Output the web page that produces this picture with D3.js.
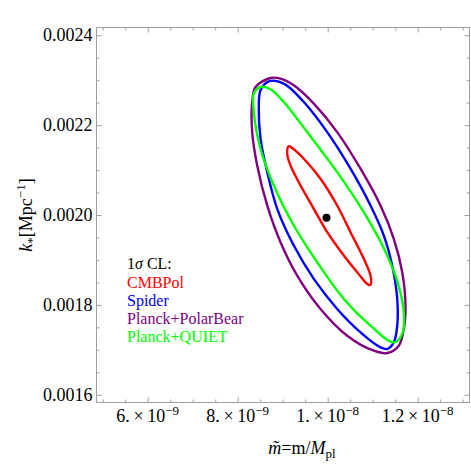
<!DOCTYPE html>
<html>
<head>
<meta charset="utf-8">
<script src="https://cdn.jsdelivr.net/npm/d3@7"></script>
<style>
  body { margin: 0; background: #fff; }
  text { font-family: "Liberation Serif", "Times New Roman", Times, serif; }
</style>
</head>
<body>
<div id="chart"></div>
<script>
// m in units of 1e-9, k in Mpc^-1
const xTickVals = [6, 8, 10, 12];
const xTickMant = ["6.", "8.", "1.", "1.2"];
const xTickExp = ["\u22129", "\u22129", "\u22128", "\u22128"];
const yTickVals = [0.0016, 0.0018, 0.0020, 0.0022, 0.0024];
const yTickLabels = ["0.0016", "0.0018", "0.0020", "0.0022", "0.0024"];

const cmbpol = [
  [9.136, 0.0021533], [9.100, 0.0021364], [9.173, 0.0021103], [9.396, 0.0020657],
  [9.691, 0.0020138], [9.989, 0.0019617], [10.358, 0.0019098], [10.656, 0.0018725],
  [10.878, 0.0018467], [10.951, 0.0018445], [10.951, 0.0018652], [10.802, 0.0019024],
  [10.507, 0.0019617], [10.211, 0.0020212], [9.840, 0.0020807], [9.469, 0.0021252],
  [9.211, 0.0021489]
];
const spider = [
  [8.691, 0.0022975], [8.507, 0.0022774], [8.469, 0.0022367], [8.507, 0.0021698],
  [8.656, 0.0020954], [8.878, 0.0020138], [9.247, 0.0019320], [9.691, 0.0018578],
  [10.211, 0.0017910], [10.729, 0.0017388], [11.173, 0.0017054], [11.322, 0.0017018],
  [11.469, 0.0017165], [11.545, 0.0017538], [11.545, 0.0018133], [11.433, 0.0018875],
  [11.247, 0.0019543], [10.951, 0.0020212], [10.507, 0.0021030], [9.989, 0.0021845],
  [9.469, 0.0022514], [9.024, 0.0022924]
];
const polarBear = [
  [8.729, 0.0023048], [8.396, 0.0022848], [8.322, 0.0022514], [8.322, 0.0021845],
  [8.433, 0.0021103], [8.656, 0.0020212], [8.951, 0.0019394], [9.322, 0.0018652],
  [9.840, 0.0017910], [10.433, 0.0017315], [11.024, 0.0016981], [11.322, 0.0016929],
  [11.580, 0.0017092], [11.691, 0.0017464], [11.729, 0.0017983], [11.656, 0.0018725],
  [11.469, 0.0019470], [11.173, 0.0020212], [10.729, 0.0021030], [10.211, 0.0021845],
  [9.691, 0.0022478], [9.247, 0.0022886], [8.951, 0.0023035]
];
const quiet = [
  [8.507, 0.0022848], [8.358, 0.0022701], [8.358, 0.0022291], [8.507, 0.0021475],
  [8.802, 0.0020657], [9.247, 0.0019766], [9.767, 0.0018948], [10.358, 0.0018133],
  [10.951, 0.0017538], [11.469, 0.0017165], [11.656, 0.0017353], [11.691, 0.0017834],
  [11.560, 0.0018480], [11.260, 0.0019230], [10.802, 0.0020062], [10.211, 0.0020954],
  [9.545, 0.0021845], [9.024, 0.0022514], [8.729, 0.0022797]
];
const fiducial = [9.973, 0.0019938];

const contours = [
  { name: "CMBPol", color: "#ff0000", pts: cmbpol },
  { name: "Spider", color: "#0000ff", pts: spider },
  { name: "Planck+PolarBear", color: "#800080", pts: polarBear },
  { name: "Planck+QUIET", color: "#00ff00", pts: quiet }
];

const width = 471, height = 470;
const pLeft = 96.5, pRight = 469.5, pTop = 27.5, pBottom = 402.5;

const svg = d3.select("#chart").append("svg")
  .attr("width", width).attr("height", height);

const x = d3.scaleLinear().domain([4.862, 13.151]).range([pLeft, pRight]);
const y = d3.scaleLinear().domain([0.0015828, 0.0024172]).range([pBottom, pTop]);

const xMinor = d3.range(5, 13.01, 0.5);
const yMinor = d3.range(0.0016, 0.002401, 0.00005);
const isMajX = v => xTickVals.some(t => Math.abs(t - v) < 1e-6);
const isMajY = v => yTickVals.some(t => Math.abs(t - v) < 1e-9);

// contours
const line = d3.line().x(d => x(d[0])).y(d => y(d[1]))
  .curve(d3.curveCatmullRomClosed.alpha(0.5));
const plot = svg.append("g");
contours.forEach(c => {
  plot.append("path").attr("d", line(c.pts))
    .attr("fill", "none").attr("stroke", c.color)
    .attr("stroke-width", 2.4).attr("stroke-linejoin", "round");
});
plot.append("circle").attr("cx", x(fiducial[0])).attr("cy", y(fiducial[1]))
  .attr("r", 4).attr("fill", "#000");

// frame
svg.append("rect").attr("x", pLeft).attr("y", pTop)
  .attr("width", pRight - pLeft).attr("height", pBottom - pTop)
  .attr("fill", "none").attr("stroke", "#a0a0a0").attr("stroke-width", 1);

// tick marks only (pointing inward), labels drawn separately
function tickMarks(g, horizontal) {
  g.select(".domain").remove();
  g.selectAll(".tick text").remove();
  g.selectAll(".tick line").attr("stroke", "#a0a0a0");
  g.selectAll(".tick").each(function(d) {
    const maj = horizontal ? isMajX(d) : isMajY(d);
    const ln = d3.select(this).select("line");
    const len = maj ? 5 : 3;
    if (horizontal) ln.attr("y2", +ln.attr("y2") < 0 ? -len : len);
    else ln.attr("x2", +ln.attr("x2") < 0 ? -len : len);
  });
}
tickMarks(svg.append("g").attr("transform", `translate(0,${pBottom})`)
  .call(d3.axisBottom(x).tickValues(xMinor).tickSizeInner(-5).tickSizeOuter(0)), true);
tickMarks(svg.append("g").attr("transform", `translate(0,${pTop})`)
  .call(d3.axisTop(x).tickValues(xMinor).tickSizeInner(-5).tickSizeOuter(0)), true);
tickMarks(svg.append("g").attr("transform", `translate(${pLeft},0)`)
  .call(d3.axisLeft(y).tickValues(yMinor).tickSizeInner(-5).tickSizeOuter(0)), false);
tickMarks(svg.append("g").attr("transform", `translate(${pRight},0)`)
  .call(d3.axisRight(y).tickValues(yMinor).tickSizeInner(-5).tickSizeOuter(0)), false);

// tick labels
svg.append("g").selectAll("text").data(xTickVals).join("text")
  .attr("x", d => x(d)).attr("y", pBottom + 19)
  .attr("text-anchor", "middle").attr("font-size", 18).attr("fill", "#000")
  .each(function(d, i) {
    const t = d3.select(this);
    t.append("tspan").text(xTickMant[i] + "\u2009\u00d7\u200910");
    t.append("tspan").attr("font-size", 13).attr("dy", -7).text(xTickExp[i]);
  });
svg.append("g").selectAll("text").data(yTickVals).join("text")
  .attr("x", pLeft - 4).attr("y", d => y(d)).attr("dy", "0.34em")
  .attr("text-anchor", "end").attr("font-size", 18).attr("fill", "#000")
  .text((d, i) => yTickLabels[i]);

// axis titles
const xt = svg.append("text").attr("x", 302).attr("y", 454)
  .attr("text-anchor", "middle").attr("font-size", 18);
xt.append("tspan").attr("font-style", "italic").text("m\u0303");
xt.append("tspan").text("=m/");
xt.append("tspan").attr("font-style", "italic").text("M");
xt.append("tspan").attr("font-size", 13).attr("dy", 4).text("pl");

const yt = svg.append("text")
  .attr("transform", `translate(32,215) rotate(-90)`)
  .attr("text-anchor", "middle").attr("font-size", 18);
yt.append("tspan").attr("font-style", "italic").text("k");
yt.append("tspan").attr("font-size", 13).attr("dy", 4).text("*");
yt.append("tspan").attr("dy", -4).text("[Mpc");
yt.append("tspan").attr("font-size", 13).attr("dy", -7).text("\u22121");
yt.append("tspan").attr("dy", 7).text("]");

// legend
const lg = svg.append("g").attr("font-size", 16);
const head = lg.append("text").attr("x", 127).attr("y", 269);
head.append("tspan").text("1");
head.append("tspan").attr("font-style", "italic").text("\u03c3");
head.append("tspan").text(" CL:");
contours.forEach((c, i) => {
  lg.append("text").attr("x", 127).attr("y", 287.5 + i * 18.3)
    .attr("fill", c.color).text(c.name);
});
</script>
</body>
</html>
